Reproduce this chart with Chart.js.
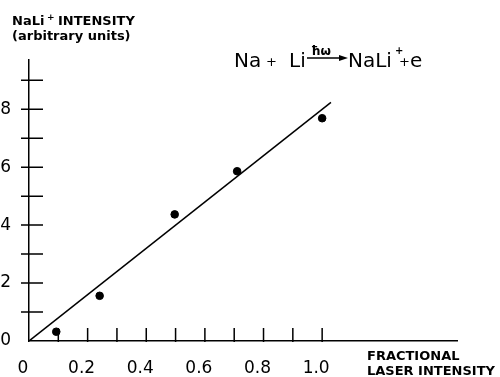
<!DOCTYPE html>
<html>
<head>
<meta charset="utf-8">
<script src="https://cdn.jsdelivr.net/npm/chart.js@4"></script>
<style>
	body { margin: 0; background: #fff; }
	canvas { display: block; }
</style>
</head>
<body>
<canvas id="ionChart" width="500" height="377"></canvas>
<script>
const ionCanvas = document.getElementById("ionChart");

// measured points: fractional laser intensity vs NaLi+ signal
const laserIntensity = [0.093, 0.241, 0.497, 0.71, 1.0];
const naliSignal = [0.32, 1.56, 4.37, 5.86, 7.69];

// straight line fit through origin
const fitX = [0, 1.03];
const fitY = [0, 8.24];

// axis ticks and labels
const xTickValues = [0.1, 0.2, 0.3, 0.4, 0.5, 0.6, 0.7, 0.8, 0.9, 1.0];
const xLabelValues = [0, 0.2, 0.4, 0.6, 0.8, 1.0];
const xLabelText = ["0", "0.2", "0.4", "0.6", "0.8", "1.0"];
const yTickValues = [1, 2, 3, 4, 5, 6, 7, 8, 9];
const yLabelValues = [0, 2, 4, 6, 8];
const yLabelText = ["0", "2", "4", "6", "8"];

const fontFamily = "'DejaVu Sans', sans-serif";

//////////////////////////////// tick marks + annotation text

const decorPlugin = {
	id: "decor",
	afterDraw(chart) {
		const ctx = chart.ctx;
		const xs = chart.scales.x;
		const ys = chart.scales.y;
		const x0 = xs.getPixelForValue(0);
		const y0 = ys.getPixelForValue(0);

		ctx.save();
		ctx.strokeStyle = "#000";
		ctx.lineWidth = 1.5;
		ctx.beginPath();
		xTickValues.forEach((v) => {
			const px = xs.getPixelForValue(v);
			ctx.moveTo(px, y0 + 1);
			ctx.lineTo(px, y0 - 13);
		});
		yTickValues.forEach((v) => {
			const py = ys.getPixelForValue(v);
			ctx.moveTo(x0 - 8, py);
			ctx.lineTo(x0 + 14, py);
		});
		ctx.stroke();

		ctx.fillStyle = "#000";
		ctx.textBaseline = "alphabetic";
		ctx.textAlign = "left";

		// y axis title
		ctx.font = "bold 13px " + fontFamily;
		ctx.fillText("NaLi", 12, 25);
		ctx.font = "bold 9px " + fontFamily;
		ctx.fillText("+", 47, 20);
		ctx.font = "bold 13px " + fontFamily;
		ctx.fillText("INTENSITY", 58, 25);
		ctx.fillText("(arbitrary units)", 12, 40);

		// x axis title
		ctx.fillText("FRACTIONAL", 367, 360);
		ctx.fillText("LASER INTENSITY", 367, 375);

		// reaction
		ctx.font = "20px " + fontFamily;
		ctx.fillText("Na", 234, 67);
		ctx.font = "13px " + fontFamily;
		ctx.fillText("+", 266, 66);
		ctx.font = "20px " + fontFamily;
		ctx.fillText("Li", 289, 67);
		ctx.font = "bold 12px " + fontFamily;
		ctx.fillText("\u0127\u03c9", 311, 55);
		ctx.beginPath();
		ctx.lineWidth = 1.3;
		ctx.moveTo(307, 58);
		ctx.lineTo(342, 58);
		ctx.stroke();
		ctx.beginPath();
		ctx.moveTo(348, 58);
		ctx.lineTo(339, 55);
		ctx.lineTo(339, 61);
		ctx.closePath();
		ctx.fill();
		ctx.font = "20px " + fontFamily;
		ctx.fillText("NaLi", 348, 67);
		ctx.font = "bold 10px " + fontFamily;
		ctx.fillText("+", 395, 54);
		ctx.font = "13px " + fontFamily;
		ctx.fillText("+", 399, 66);
		ctx.font = "20px " + fontFamily;
		ctx.fillText("e", 410, 67);
		ctx.restore();
	},
};

const ionData = {
	datasets: [
		{
			data: laserIntensity.map((x, i) => ({ x: x, y: naliSignal[i] })),
			backgroundColor: "#000",
			borderColor: "#000",
			pointRadius: 3.8,
			showLine: false,
		},
		{
			data: fitX.map((x, i) => ({ x: x, y: fitY[i] })),
			borderColor: "#000",
			borderWidth: 1.5,
			pointRadius: 0,
			showLine: true,
		},
	],
};

const ionOptions = {
	responsive: false,
	animation: false,
	layout: {
		padding: { top: 60, right: 43, bottom: 0, left: 0 },
	},
	scales: {
		x: {
			type: "linear",
			min: 0,
			max: 1.46,
			grid: { display: false },
			border: { display: true, color: "#000", width: 1.5 },
			afterBuildTicks: (s) => {
				s.ticks = xLabelValues.map((v) => ({ value: v }));
			},
			afterFit: (s) => {
				s.height = 36;
			},
			ticks: {
				autoSkip: false,
				maxRotation: 0,
				padding: 9,
				labelOffset: -6,
				color: "#000",
				font: { family: fontFamily, size: 17 },
				callback: (v, i) => xLabelText[i],
			},
		},
		y: {
			type: "linear",
			min: 0,
			max: 9.7,
			grid: { display: false },
			border: { display: true, color: "#000", width: 1.5 },
			afterBuildTicks: (s) => {
				s.ticks = yLabelValues.map((v) => ({ value: v }));
			},
			afterFit: (s) => {
				s.width = 29;
			},
			ticks: {
				autoSkip: false,
				padding: 10,
				color: "#000",
				font: { family: fontFamily, size: 17 },
				callback: (v, i) => yLabelText[i],
			},
		},
	},
	plugins: {
		legend: { display: false },
		tooltip: { enabled: false },
	},
};

new Chart(ionCanvas, {
	type: "scatter",
	data: ionData,
	options: ionOptions,
	plugins: [decorPlugin],
});
</script>
</body>
</html>
